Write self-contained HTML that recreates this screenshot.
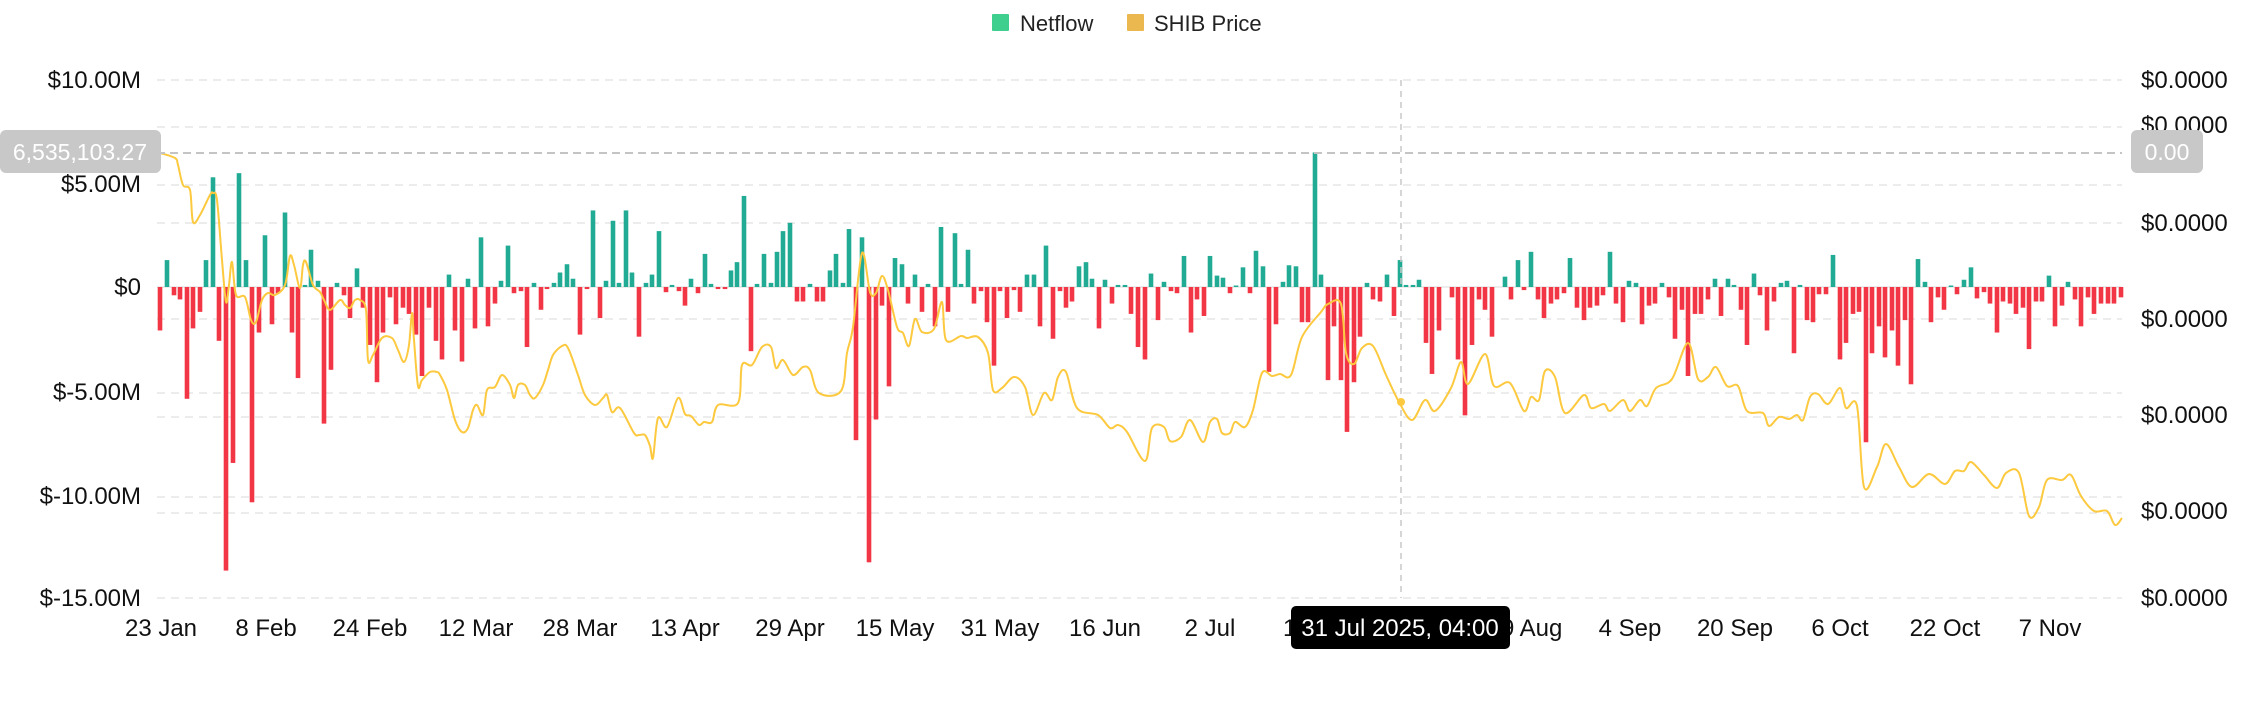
<!DOCTYPE html>
<html><head><meta charset="utf-8">
<style>
html,body{margin:0;padding:0;background:#fff;}
body{width:2268px;height:700px;overflow:hidden;font-family:"Liberation Sans",sans-serif;}
</style></head>
<body>
<svg id="c" width="2268" height="700" viewBox="0 0 2268 700" xmlns="http://www.w3.org/2000/svg" font-family="Liberation Sans, sans-serif">
<rect x="992" y="14" width="17" height="17" fill="#3ecf8e" rx="1"/>
<text x="1020" y="31" font-size="22" fill="#222">Netflow</text>
<rect x="1127" y="14" width="17" height="17" fill="#eab84e" rx="1"/>
<text x="1154" y="31" font-size="22" fill="#222">SHIB Price</text>
<g stroke="#e6e6e6" stroke-width="1.5" stroke-dasharray="8,6">
<line x1="157" y1="80" x2="2122" y2="80"/>
<line x1="157" y1="127" x2="2122" y2="127"/>
<line x1="157" y1="185" x2="2122" y2="185"/>
<line x1="157" y1="223" x2="2122" y2="223"/>
<line x1="157" y1="319" x2="2122" y2="319"/>
<line x1="157" y1="393" x2="2122" y2="393"/>
<line x1="157" y1="417" x2="2122" y2="417"/>
<line x1="157" y1="497" x2="2122" y2="497"/>
<line x1="157" y1="513" x2="2122" y2="513"/>
<line x1="157" y1="598" x2="2122" y2="598"/>
</g>
<line x1="157" y1="287" x2="2122" y2="287" stroke="#e6e6e6" stroke-width="1.5"/>
<g font-size="24" fill="#111" text-anchor="end">
<text x="141" y="88">$10.00M</text>
<text x="141" y="192">$5.00M</text>
<text x="141" y="295">$0</text>
<text x="141" y="400">$-5.00M</text>
<text x="141" y="504">$-10.00M</text>
<text x="141" y="606">$-15.00M</text>
</g>
<g font-size="24" fill="#111">
<text x="2141" y="88">$0.0000</text>
<text x="2141" y="133">$0.0000</text>
<text x="2141" y="231">$0.0000</text>
<text x="2141" y="327">$0.0000</text>
<text x="2141" y="423">$0.0000</text>
<text x="2141" y="519">$0.0000</text>
<text x="2141" y="606">$0.0000</text>
</g>
<g font-size="24" fill="#111" text-anchor="middle">
<text x="161" y="636">23 Jan</text>
<text x="266" y="636">8 Feb</text>
<text x="370" y="636">24 Feb</text>
<text x="476" y="636">12 Mar</text>
<text x="580" y="636">28 Mar</text>
<text x="685" y="636">13 Apr</text>
<text x="790" y="636">29 Apr</text>
<text x="895" y="636">15 May</text>
<text x="1000" y="636">31 May</text>
<text x="1105" y="636">16 Jun</text>
<text x="1210" y="636">2 Jul</text>
<text x="1315" y="636">18 Jul</text>
<text x="1525" y="636">19 Aug</text>
<text x="1630" y="636">4 Sep</text>
<text x="1735" y="636">20 Sep</text>
<text x="1840" y="636">6 Oct</text>
<text x="1945" y="636">22 Oct</text>
<text x="2050" y="636">7 Nov</text>
</g>
<g id="bars"></g>
<path id="price" fill="none" stroke="#fcc93f" stroke-width="2" stroke-linejoin="round" d=""/>
<line x1="1401" y1="80" x2="1401" y2="598" stroke="#c8c8c8" stroke-width="1.5" stroke-dasharray="6,5"/>
<line x1="157" y1="153" x2="2122" y2="153" stroke="#c4c4c4" stroke-width="2" stroke-dasharray="8,5"/>
<circle cx="1401" cy="402" r="4" fill="#fcc93f"/>
<rect x="0" y="130" width="161" height="43" rx="6" fill="#c8c8c8"/>
<text x="80" y="160" font-size="23" fill="#fff" text-anchor="middle">6,535,103.27</text>
<rect x="2131" y="130" width="72" height="43" rx="6" fill="#c8c8c8"/>
<text x="2167" y="160" font-size="23" fill="#fff" text-anchor="middle">0.00</text>
<rect x="1291" y="606" width="219" height="43" rx="5" fill="#000"/>
<text x="1400" y="636" font-size="24" fill="#fff" text-anchor="middle">31 Jul 2025, 04:00</text>
</svg>
<script>
var B=[[160,-2.1],[167,1.3],[174,-0.4],[180,-0.6],[187,-5.4],[193,-2],[200,-1.2],[206,1.3],[213,5.3],[219,-2.6],[226,-13.7],[233,-8.5],[239,5.5],[246,1.3],[252,-10.4],[259,-2.2],[265,2.5],[272,-1.8],[278,-0.3],[285,3.6],[292,-2.2],[298,-4.4],[305,0.1],[311,1.8],[318,0.3],[324,-6.6],[331,-4],[337,0.2],[344,-0.4],[350,-1.5],[357,0.9],[363,-1],[370,-2.8],[377,-4.6],[383,-2.2],[390,-0.5],[396,-1.8],[403,-1],[409,-1.3],[416,-2.3],[422,-4.3],[429,-1],[436,-2.6],[442,-3.5],[449,0.6],[455,-2.1],[462,-3.6],[468,0.4],[475,-2],[481,2.4],[488,-1.9],[495,-0.8],[501,0.3],[508,2],[514,-0.3],[521,-0.2],[527,-2.9],[534,0.2],[541,-1.1],[547,-0.1],[554,0.2],[560,0.7],[567,1.1],[573,0.4],[580,-2.3],[587,-0.1],[593,3.7],[600,-1.5],[606,0.3],[613,3.2],[619,0.2],[626,3.7],[632,0.7],[639,-2.4],[646,0.2],
[652,0.6],[659,2.7],[666,-0.25],[672,0.1],[679,-0.2],[685,-0.9],[691,0.4],[698,-0.3],[705,1.6],[711,0.15],[718,-0.1],[725,-0.1],[731,0.8],[737,1.2],[744,4.4],[751,-3.1],[757,0.15],[764,1.6],[771,0.2],[777,1.7],[783,2.7],[790,3.1],[797,-0.7],[803,-0.7],[810,0.15],[817,-0.7],[823,-0.7],[830,0.8],[836,1.6],[843,0.2],[849,2.8],[856,-7.4],[862,2.4],[869,-13.3],[876,-6.4],[882,-0.9],[889,-4.8],[895,1.4],[902,1.1],[908,-0.8],[915,0.6],[922,-1.2],[928,0.15],[935,-1.9],[941,2.9],[948,-1.2],[955,2.6],[961,0.15],[968,1.8],[974,-0.8],[981,-0.2],[987,-1.7],[994,-3.8],[1000,-0.2],[1007,-1.5],[1014,-0.15],[1020,-1.2],[1027,0.6],[1034,0.6],[1040,-1.9],[1046,2],[1053,-2.5],[1060,-0.2],[1066,-1],[1072,-0.7],[1079,1],[1086,1.2],[1092,0.4],[1099,-2],[1105,0.35],[1112,-0.8],[1118,0.1],[1125,0.1],[1131,-1.3],[1138,-2.9],[1145,-3.5],[1151,0.65],[1158,-1.6],[1164,0.25],[1171,-0.2],[1177,-0.3],[1184,1.5],[1191,-2.2],[1197,-0.6],[1204,-1.4],[1210,1.5],[1217,0.55],[1223,0.45],[1230,-0.3],[1236,0.05],[1243,0.95],[1250,-0.3],[1256,1.75],[1263,1.0],[1269,-4.1],[1276,-1.8],[1283,0.25],[1289,1.05],[1296,1.0],
[1302,-1.7],[1308,-1.7],[1315,6.5],[1321,0.6],[1328,-4.5],[1334,-1.9],[1341,-4.5],[1347,-7],[1354,-4.6],[1360,-2.4],[1367,0.2],[1373,-0.6],[1380,-0.7],[1387,0.6],[1394,-1.4],[1400,1.3],[1406,0.1],[1413,0.1],[1419,0.35],[1426,-2.7],[1432,-4.2],[1439,-2.1],[1452,-0.5],[1458,-3.5],[1465,-6.2],[1472,-2.8],[1479,-0.6],[1485,-1.1],[1492,-2.4],[1505,0.5],[1511,-0.6],[1518,1.3],[1524,-0.15],[1531,1.7],[1538,-0.6],[1544,-1.5],[1551,-0.8],[1557,-0.6],[1564,-0.3],[1570,1.4],[1577,-1],[1584,-1.6],[1590,-1],[1597,-0.9],[1603,-0.4],[1610,1.7],[1616,-0.8],[1623,-1.7],[1629,0.3],[1636,0.2],[1642,-1.8],[1649,-0.9],[1655,-0.8],[1662,0.2],[1669,-0.5],[1675,-2.5],[1682,-1.1],[1688,-4.3],[1695,-1.3],[1701,-1.3],[1708,-0.6],[1715,0.4],[1721,-1.4],[1728,0.4],[1734,0.1],[1741,-1.1],[1747,-2.8],[1754,0.65],[1760,-0.4],[1767,-2.1],[1774,-0.7],[1781,0.2],[1787,0.3],[1794,-3.2],[1800,0.1],[1807,-1.6],[1813,-1.7],[1819,-0.35],[1826,-0.35],[1833,1.55],[1840,-3.5],[1846,-2.7],[1853,-1.3],[1859,-1.2],[1866,-7.5],[1872,-3.2],[1879,-1.9],[1885,-3.4],[1892,-2.1],[1898,-3.8],[1905,-1.6],[1911,-4.7],[1918,1.35],[1925,0.25],[1931,-1.7],[1938,-0.5],[1944,-1.1],[1951,0.05],[1957,-0.35],[1964,0.35],[1971,0.95],[1977,-0.55],[1984,-0.25],[1990,-0.8],[1997,-2.2],[2003,-0.7],[2010,-0.8],[2016,-1.3],[2023,-1],[2029,-3],[2036,-0.7],[2042,-0.7],[2049,0.55],[2055,-1.9],[2062,-0.9],[2068,0.25],[2075,-0.6],[2081,-1.9],[2088,-0.5],[2094,-1.3],[2101,-0.8],[2108,-0.8],[2114,-0.8],[2121,-0.5]];
var g=document.getElementById('bars'),s='';
B.forEach(function(b){var h=Math.abs(b[1])*20.7;if(h<1.5)h=1.5;var y=b[1]>=0?287-h:287;
s+='<rect x="'+(b[0]-2.3)+'" y="'+y+'" width="4.6" height="'+h+'" fill="'+(b[1]>=0?'#22ab94':'#f23645')+'"/>';});
g.innerHTML=s;
var P=[[160,153],[175,158],[178,165],[183,185],[190,190],[193,222],[200,215],[210,195],[213,193],[217,200],[222,260],[226,302],[229,285],[232,262],[236,295],[245,297],[251,320],[256,322],[262,300],[268,293],[275,295],[285,285],[290,256],[294,265],[300,288],[303,265],[306,262],[313,285],[320,292],[324,300],[330,310],[340,300],[345,305],[350,308],[355,300],[360,300],[366,310],[368,360],[373,355],[382,338],[392,338],[398,350],[404,362],[409,345],[412,313],[414,340],[418,386],[422,380],[430,372],[437,372],[440,375],[447,390],[455,420],[462,432],[468,428],[473,410],[477,405],[483,415],[487,390],[495,387],[502,375],[510,385],[514,398],[518,385],[525,385],[530,395],[535,398],[543,385],[548,370],[553,355],[562,346],[568,348],[578,375],[585,395],[595,405],[603,398],[607,395],[612,412],[620,408],[634,433],[639,435],[645,435],[650,446],[653,458],[658,418],[667,427],[678,398],[685,414],[691,416],[699,425],[704,422],[712,422],[718,405],[738,403],[742,365],[752,365],[762,347],[771,347],[776,368],[783,360],[793,375],[803,367],[810,370],[819,393],[841,391],[847,353],[853,327],[862,253],[870,292],[876,293],[882,276],[888,290],[897,327],[903,333],[909,346],[915,319],[922,332],[934,329],[942,302],[946,340],[961,336],[967,338],[978,337],[988,353],[993,390],[1002,388],[1014,377],[1025,387],[1033,415],[1044,393],[1052,400],[1058,377],[1066,372],[1077,408],[1098,415],[1110,428],[1118,425],[1127,432],[1145,461],[1152,428],[1164,427],[1170,441],[1181,437],[1190,420],[1203,442],[1210,422],[1217,419],[1222,433],[1230,433],[1235,422],[1245,427],[1253,410],[1262,373],[1272,376],[1280,374],[1291,375],[1302,337],[1321,312],[1328,304],[1341,304],[1346,353],[1354,364],[1362,348],[1373,346],[1386,375],[1399,402],[1412,420],[1425,400],[1435,411],[1451,388],[1461,362],[1468,384],[1485,354],[1494,386],[1510,383],[1524,411],[1531,397],[1539,400],[1545,371],[1555,377],[1565,413],[1584,395],[1591,408],[1604,404],[1610,411],[1623,400],[1630,411],[1640,400],[1647,406],[1656,388],[1672,379],[1688,343],[1698,379],[1708,377],[1716,367],[1727,386],[1738,386],[1747,411],[1763,413],[1769,426],[1779,417],[1789,419],[1797,415],[1803,420],[1810,397],[1818,394],[1828,404],[1840,388],[1846,408],[1857,406],[1864,487],[1877,467],[1886,444],[1899,467],[1912,487],[1929,474],[1945,484],[1955,471],[1964,471],[1971,462],[1984,475],[1997,488],[2006,473],[2019,473],[2029,516],[2039,507],[2047,480],[2062,480],[2071,475],[2081,496],[2094,511],[2107,511],[2115,525],[2122,518]];
var d='M'+P[0][0]+','+P[0][1];
for(var i=0;i<P.length-1;i++){
var p0=P[i>0?i-1:0],p1=P[i],p2=P[i+1],p3=P[i+2<P.length?i+2:i+1];
var c1x=p1[0]+(p2[0]-p0[0])/6,c1y=p1[1]+(p2[1]-p0[1])/6,c2x=p2[0]-(p3[0]-p1[0])/6,c2y=p2[1]-(p3[1]-p1[1])/6;
d+=' C'+c1x.toFixed(1)+','+c1y.toFixed(1)+' '+c2x.toFixed(1)+','+c2y.toFixed(1)+' '+p2[0]+','+p2[1];}
document.getElementById('price').setAttribute('d',d);
</script>
</body></html>
